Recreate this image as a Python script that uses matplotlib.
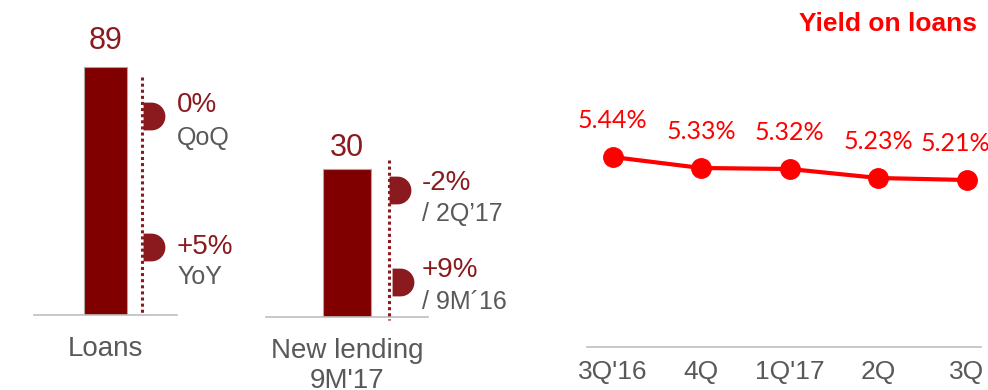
import numpy as np
import matplotlib
matplotlib.use('Agg')
import matplotlib.pyplot as plt
from matplotlib.path import Path
from matplotlib.lines import Line2D

# ---- data
loans = [89]
new_lending = [30]
loans_changes = ['0%', '+5%']
loans_periods = ['QoQ', 'YoY']
lending_changes = ['-2%', '+9%']
lending_periods = ['/ 2Q\u201917', '/ 9M\u00b416']
quarters = ["3Q'16", '4Q', "1Q'17", '2Q', '3Q']
yield_on_loans = [5.44, 5.33, 5.32, 5.23, 5.21]

DARK = '#800000'
WINE = '#8B1A1F'
GREY = '#595959'
AXIS = '#BFBFBF'
RED = '#FF0000'
W, H = 988, 390

plt.rcParams['font.family'] = ['Liberation Sans', 'DejaVu Sans']
fig = plt.figure(figsize=(W / 100, H / 100), dpi=100)


def box(left, top, right, bottom):
    # pixel box -> figure fraction rect
    return [left / W, 1 - bottom / H, (right - left) / W, (bottom - top) / H]


def px(x, y):
    return x / W, 1 - y / H


# "D" shaped tag that sits on the dotted line
t = np.linspace(-np.pi / 2, np.pi / 2, 40)
verts = np.vstack([[-0.57, -1], np.column_stack([np.cos(t), np.sin(t)]), [-0.57, 1], [-0.57, -1]])
tag = Path(verts, closed=True)


def bar_panel(rect, values, label, top_units, pad):
    ax = fig.add_axes(rect)
    bars = ax.bar([0], values, width=0.6, color=DARK, edgecolor='#A6A6A6', linewidth=0.8)
    ax.bar_label(bars, labels=[str(v) for v in values], padding=pad, fontsize=22, color=WINE)
    ax.set_xlim(-1, 1)
    ax.set_ylim(0, top_units)
    for s in ['top', 'left', 'right']:
        ax.spines[s].set_visible(False)
    ax.spines['bottom'].set_color(AXIS)
    ax.spines['bottom'].set_linewidth(1.2)
    ax.set_yticks([])
    ax.set_xticks([0])
    ax.set_xticklabels([label], fontsize=20, color=GREY, linespacing=1.2)
    ax.tick_params(axis='x', length=0, pad=15)
    return ax


ax1 = bar_panel(box(34, 20, 177, 315), loans, 'Loans', 106, 8)
ax2 = bar_panel(box(266, 20, 428, 317), new_lending, "New lending\n9M'17", 60.2, 4)

# dotted guide lines
for (x, y0, y1) in [(142, 77, 313), (389, 160, 320)]:
    fig.add_artist(Line2D([x / W, x / W], [1 - y0 / H, 1 - y1 / H], transform=fig.transFigure,
                          color=WINE, lw=2.2, linestyle=(0, (1, 1))))

# tags and change labels
tags = [(151, 116), (151, 247), (397, 190), (400, 282)]
for (x, y) in tags:
    fig.add_artist(Line2D([x / W], [1 - y / H], transform=fig.transFigure, marker=tag,
                          markersize=20, color=WINE, markeredgewidth=0, linestyle='none'))

for txt, (x, y) in zip(loans_changes, [(177, 105), (177, 247)]):
    fig.text(*px(x, y), txt, fontsize=20, color=WINE, va='center')
for txt, (x, y) in zip(loans_periods, [(177, 138), (177, 277)]):
    fig.text(*px(x, y), txt, fontsize=18, color=GREY, va='center')
for txt, (x, y) in zip(lending_changes, [(422, 183), (422, 270)]):
    fig.text(*px(x, y), txt, fontsize=20, color=WINE, va='center')
for txt, (x, y) in zip(lending_periods, [(422, 214), (422, 302)]):
    fig.text(*px(x, y), txt, fontsize=18, color=GREY, va='center')

# ---- yield on loans line
ax3 = fig.add_axes(box(587, 60, 981, 347))
xs = np.arange(len(quarters))
ax3.plot(xs, yield_on_loans, color=RED, lw=3, marker='o', markersize=14, zorder=3)
for i, v in enumerate(yield_on_loans):
    dx = -11 if i == len(yield_on_loans) - 1 else 0
    ax3.annotate(f'{v:.2f}%', (i, v), xytext=(dx, 36), textcoords='offset pixels',
                 ha='center', va='center', fontsize=18, color=RED, family=['Lato', 'DejaVu Sans'],
                 annotation_clip=False)
ax3.set_xlim(-0.29, 4.16)
ax3.set_ylim(3.54, 6.41)
for s in ['top', 'left', 'right']:
    ax3.spines[s].set_visible(False)
ax3.spines['bottom'].set_color(AXIS)
ax3.spines['bottom'].set_linewidth(1.2)
ax3.set_yticks([])
ax3.set_xticks(xs)
ax3.set_xticklabels(quarters, fontsize=19, color=GREY)
ax3.tick_params(axis='x', length=0, pad=9)

fig.text(*px(977, 24), 'Yield on loans', fontsize=19, fontweight='bold', color=RED,
         ha='right', va='center')

fig.savefig('out.png', dpi=100)
